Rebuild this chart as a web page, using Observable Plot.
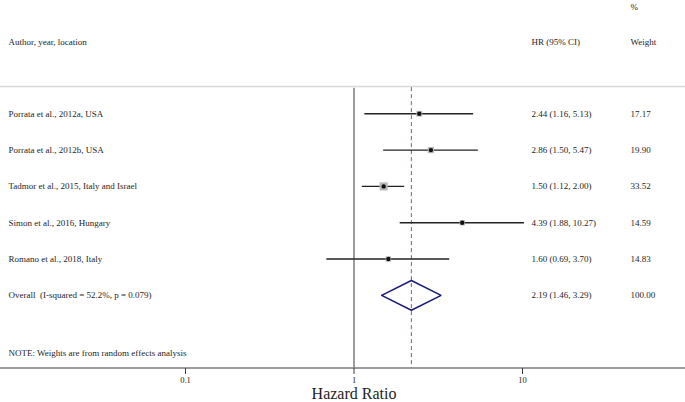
<!DOCTYPE html>
<html>
<head>
<meta charset="utf-8">
<script src="https://cdn.jsdelivr.net/npm/d3@7"></script>
<script src="https://cdn.jsdelivr.net/npm/@observablehq/plot@0.6"></script>
<style>
  html, body { margin: 0; padding: 0; background: #fff; }
</style>
</head>
<body>
<div id="chart"></div>
<script>
// ---- data ----
const studies = [
  "Porrata et al., 2012a, USA",
  "Porrata et al., 2012b, USA",
  "Tadmor et al., 2015, Italy and Israel",
  "Simon et al., 2016, Hungary",
  "Romano et al., 2018, Italy"
];
const hr = [2.44, 2.86, 1.50, 4.39, 1.60];
const lower = [1.16, 1.50, 1.12, 1.88, 0.69];
const upper = [5.13, 5.47, 2.00, 10.27, 3.70];
const weights = [17.17, 19.90, 33.52, 14.59, 14.83];

const overallLabel = "Overall  (I-squared = 52.2%, p = 0.079)";
const overallHR = 2.19;
const overallLower = 1.46;
const overallUpper = 3.29;
const overallWeight = 100.00;

const headerLabels = ["Author, year, location", "HR (95% CI)", "Weight"];
const weightPct = "%";
const noteText = "NOTE: Weights are from random effects analysis";
const xTicks = [0.1, 1, 10];
const xLabel = "Hazard Ratio";

// ---- build rows ----
const f2 = v => v.toFixed(2);
const rows = studies.map((s, i) => ({
  row: i + 1,
  label: s,
  hr: hr[i], lower: lower[i], upper: upper[i], weight: weights[i],
  ci: `${f2(hr[i])} (${f2(lower[i])}, ${f2(upper[i])})`,
  w: f2(weights[i])
}));
const overallRow = studies.length + 1;
const textRows = [
  ...rows,
  { row: overallRow, label: overallLabel,
    ci: `${f2(overallHR)} (${f2(overallLower)}, ${f2(overallUpper)})`,
    w: f2(overallWeight) }
];
const dh = 0.41;
const diamond = [
  { x: overallLower, y: overallRow },
  { x: overallHR, y: overallRow - dh },
  { x: overallUpper, y: overallRow },
  { x: overallHR, y: overallRow + dh },
  { x: overallLower, y: overallRow }
];
const headerRow = -0.96;
const pctRow = -1.95;
const noteRow = 7.6;
const axisRow = 8;
const sepRow = 0.25;

const txt = "#1e1e1e";
const fs = 9;
const ml = 8;

const chart = Plot.plot({
  width: 685,
  height: 402,
  marginLeft: ml,
  marginRight: 0,
  marginTop: 0,
  marginBottom: 34,
  style: { fontFamily: "'Liberation Serif', 'Times New Roman', serif", background: "#fff", color: txt },
  x: { type: "log", domain: [0.1, 10], range: [185, 522] },
  y: { domain: [-2, 8], range: [4.3, 367.5], axis: null },
  r: { type: "sqrt", domain: [0, d3.max(weights)], range: [0, 4.6] },
  marks: [
    Plot.ruleY([sepRow], { stroke: "#d9d9d9", strokeWidth: 1.5, insetLeft: -ml }),
    Plot.ruleX([1], { y1: sepRow + 0.05, y2: axisRow, stroke: "#3a3a3a", strokeWidth: 1 }),
    Plot.ruleX([overallHR], { y1: sepRow + 0.03, y2: axisRow, stroke: "#b5484f", strokeWidth: 1, strokeDasharray: "4,3" }),
    Plot.ruleY([axisRow], { stroke: "#3a3a3a", strokeWidth: 1, insetLeft: -ml }),
    Plot.ruleY(rows, { y: "row", x1: "lower", x2: "upper", stroke: "#222", strokeWidth: 1.4 }),
    Plot.dot(rows, { x: "hr", y: "row", r: "weight", symbol: "square", fill: "#b9b9b9", stroke: "none" }),
    Plot.dot(rows, { x: "hr", y: "row", r: 2.2, fill: "#111", stroke: "none" }),
    Plot.line(diamond, { x: "x", y: "y", stroke: "#1b1b7a", strokeWidth: 1.5, strokeLinejoin: "miter" }),
    Plot.axisX({ ticks: xTicks, tickFormat: d => String(d), tickSize: 6, tickPadding: 2, fontSize: 8.5, label: null, stroke: "#3a3a3a" }),
    Plot.text([xLabel], { x: 1, frameAnchor: "bottom", lineAnchor: "middle", dy: 25, fontSize: 16, fill: txt }),
    // row texts
    Plot.text(textRows, { y: "row", text: "label", frameAnchor: "left", textAnchor: "start", fontSize: fs, fill: txt }),
    Plot.text(textRows, { y: "row", text: "ci", frameAnchor: "left", dx: 531 - ml, textAnchor: "start", fontSize: fs, fill: txt }),
    Plot.text(textRows, { y: "row", text: "w", frameAnchor: "left", dx: 630 - ml, textAnchor: "start", fontSize: fs, fill: txt }),
    // headers
    Plot.text([headerLabels[0]], { y: headerRow, frameAnchor: "left", textAnchor: "start", fontSize: fs, fill: txt }),
    Plot.text([headerLabels[1]], { y: headerRow, frameAnchor: "left", dx: 531 - ml, textAnchor: "start", fontSize: fs, fill: txt }),
    Plot.text([headerLabels[2]], { y: headerRow, frameAnchor: "left", dx: 630 - ml, textAnchor: "start", fontSize: fs, fill: txt }),
    Plot.text([weightPct], { y: pctRow, frameAnchor: "left", dx: 630 - ml, textAnchor: "start", fontSize: fs, fill: txt }),
    Plot.text([noteText], { y: noteRow, frameAnchor: "left", textAnchor: "start", fontSize: fs, fill: txt })
  ]
});
document.getElementById("chart").appendChild(chart);
</script>
</body>
</html>
